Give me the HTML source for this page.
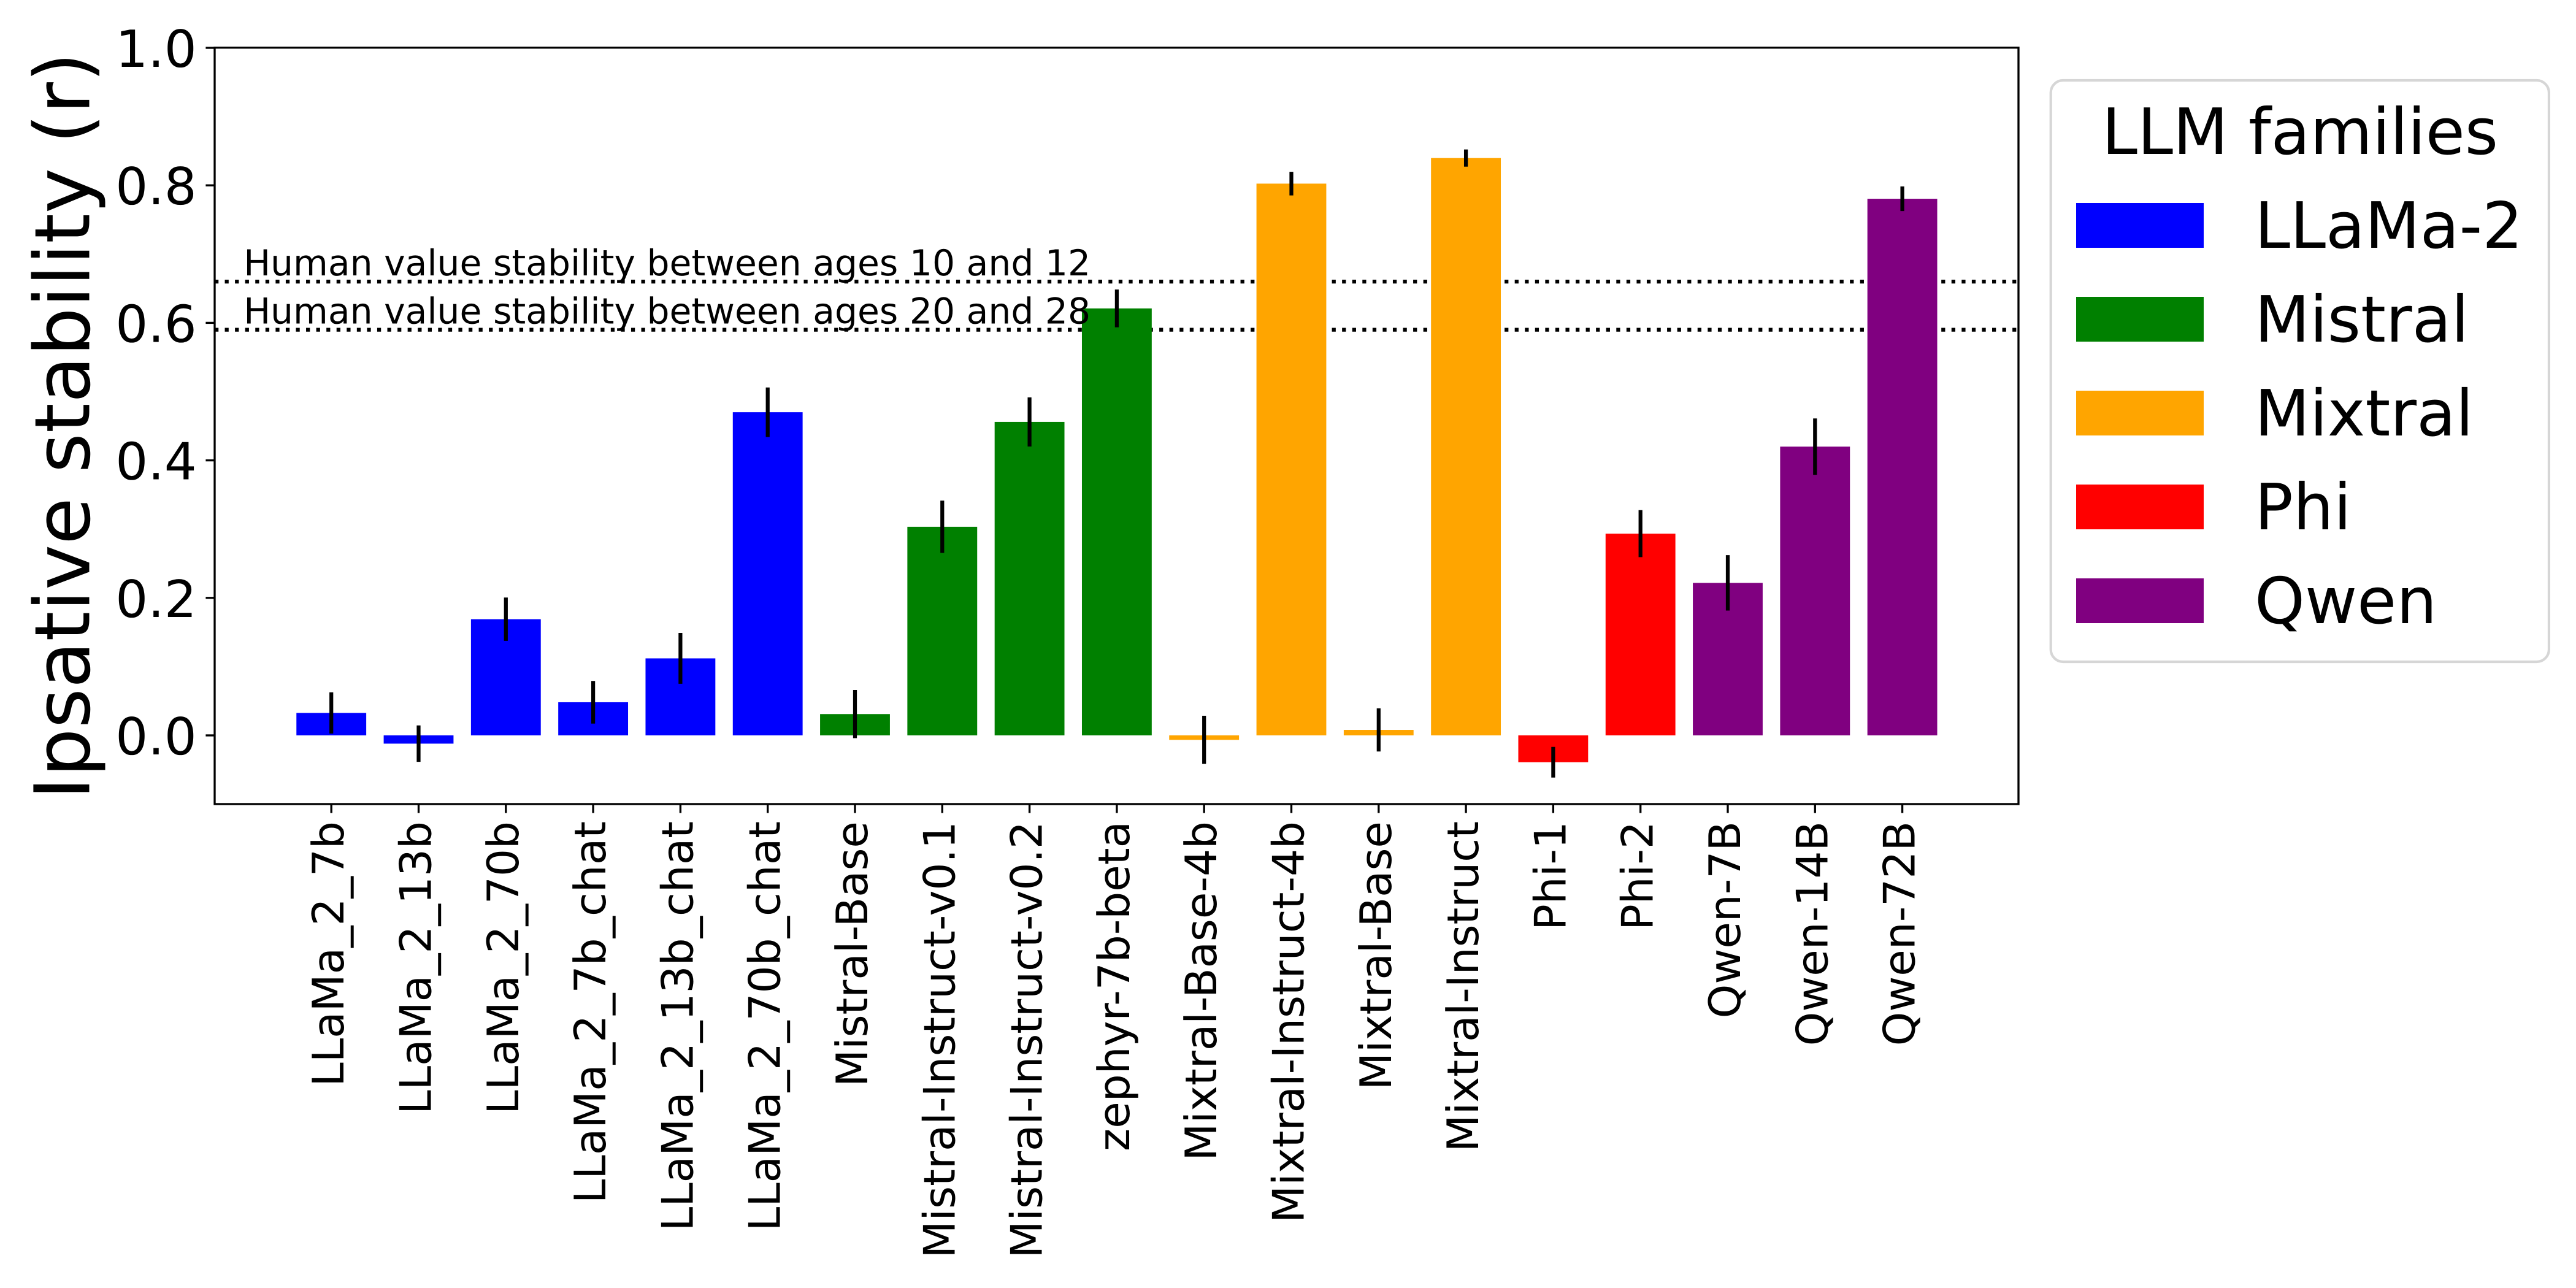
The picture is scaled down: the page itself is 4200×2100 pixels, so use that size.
<!DOCTYPE html>
<html lang="en">
<head>
<meta charset="utf-8">
<title>Ipsative stability by LLM</title>
<style>
html,body{margin:0;padding:0;background:#fff;width:4200px;height:2100px;overflow:hidden}
svg{display:block;text-rendering:geometricPrecision}
text{font-family:"DejaVu Sans","Liberation Sans",sans-serif;fill:#000}
</style>
</head>
<body>
<svg id="chart" xmlns="http://www.w3.org/2000/svg" width="4200" height="2100" viewBox="0 0 4200 2100">
  <rect x="0" y="0" width="4200" height="2100" fill="#fff"/>
  <g id="reference-lines"></g>
  <g id="bars"></g>
  <g id="error-bars"></g>
  <rect x="350" y="77.7" width="2941" height="1233.3" fill="none" stroke="#000" stroke-width="3.33"/>
  <g id="x-axis"></g>
  <g id="y-axis"></g>
  <g id="reference-labels"></g>
  <text transform="translate(145.6,694.5) rotate(-90)" text-anchor="middle" font-size="125">Ipsative stability (r)</text>
  <g>
    <rect x="3343.7" y="131" width="812.2" height="948" rx="20" ry="20" fill="#fff" stroke="#d6d6d6" stroke-width="4.17"/>
    <text x="3750" y="251" text-anchor="middle" font-size="104.17">LLM families</text>
    <g>
      <rect x="3385" y="331" width="208" height="73" fill="#0000ff"/>
      <text x="3676" y="404" font-size="104.17">LLaMa-2</text>
    </g>
    <g>
      <rect x="3385" y="484" width="208" height="73" fill="#008000"/>
      <text x="3676" y="557" font-size="104.17">Mistral</text>
    </g>
    <g>
      <rect x="3385" y="637" width="208" height="73" fill="#ffa500"/>
      <text x="3676" y="710" font-size="104.17">Mixtral</text>
    </g>
    <g>
      <rect x="3385" y="790" width="208" height="73" fill="#ff0000"/>
      <text x="3676" y="863" font-size="104.17">Phi</text>
    </g>
    <g>
      <rect x="3385" y="943" width="208" height="73" fill="#800080"/>
      <text x="3676" y="1016" font-size="104.17">Qwen</text>
    </g>
  </g>
</svg>
<script>
const categories = ["LLaMa_2_7b","LLaMa_2_13b","LLaMa_2_70b","LLaMa_2_7b_chat","LLaMa_2_13b_chat","LLaMa_2_70b_chat","Mistral-Base","Mistral-Instruct-v0.1","Mistral-Instruct-v0.2","zephyr-7b-beta","Mixtral-Base-4b","Mixtral-Instruct-4b","Mixtral-Base","Mixtral-Instruct","Phi-1","Phi-2","Qwen-7B","Qwen-14B","Qwen-72B"];
const values = [0.0327,-0.012,0.169,0.0482,0.112,0.47,0.031,0.3034,0.4559,0.621,-0.0065,0.8025,0.008,0.8397,-0.039,0.2934,0.2218,0.42,0.7805];
const errors = [0.03,0.0265,0.0315,0.031,0.037,0.036,0.035,0.038,0.0357,0.0275,0.035,0.0172,0.0314,0.0125,0.0223,0.0342,0.0403,0.041,0.0179];
const barColors = ["blue","blue","blue","blue","blue","blue","green","green","green","green","orange","orange","orange","orange","red","red","purple","purple","purple"];
const yTicks = [0,0.2,0.4,0.6,0.8,1];
const yTickLabels = ["0.0","0.2","0.4","0.6","0.8","1.0"];
const referenceValues = [0.66,0.59];
const referenceLabels = ["Human value stability between ages 10 and 12","Human value stability between ages 20 and 28"];

const NS = "http://www.w3.org/2000/svg";
const xScale = function (i) { return 540.2 + 142.3 * i; };
const yScale = function (v) { return 1199 - 1121 * v; };
const make = function (tag, parentId) {
  const el = document.createElementNS(NS, tag);
  document.getElementById(parentId).appendChild(el);
  return el;
};
const slug = function (s) { return s.toLowerCase().replace(/[^a-z0-9]+/g, '-'); };
const BAR_WIDTH = 0.8;
const FRAME_LEFT = 350, FRAME_RIGHT = 3291, FRAME_BOTTOM = 1311;

referenceValues.forEach(function (v, i) {
  const line = make('line', 'reference-lines');
  
  
  line.setAttribute('x1', FRAME_LEFT);
  line.setAttribute('x2', FRAME_RIGHT);
  line.setAttribute('y1', yScale(v));
  line.setAttribute('y2', yScale(v));
  line.setAttribute('stroke', '#000');
  line.setAttribute('stroke-width', '6.25');
  line.setAttribute('stroke-dasharray', '6.25 10.31');

  const label = make('text', 'reference-labels');
  
  
  label.setAttribute('x', xScale(-1.005));
  label.setAttribute('y', yScale(v + 0.01) + 1);
  label.setAttribute('font-size', '58.33');
  label.textContent = referenceLabels[i];
});

categories.forEach(function (name, i) {
  const value = values[i];
  const halfWidth = 142.3 * BAR_WIDTH / 2;
  const cx = xScale(i);

  const bar = make('rect', 'bars');
  
  
  bar.setAttribute('x', cx - halfWidth);
  bar.setAttribute('width', halfWidth * 2);
  bar.setAttribute('y', Math.min(yScale(value), yScale(0)));
  bar.setAttribute('height', Math.abs(yScale(value) - yScale(0)));
  bar.setAttribute('fill', barColors[i]);

  const err = make('line', 'error-bars');
  
  
  err.setAttribute('x1', cx);
  err.setAttribute('x2', cx);
  err.setAttribute('y1', yScale(value + errors[i]));
  err.setAttribute('y2', yScale(value - errors[i]));
  err.setAttribute('stroke', '#000');
  err.setAttribute('stroke-width', '6.25');

  const tick = make('line', 'x-axis');
  
  
  tick.setAttribute('x1', cx);
  tick.setAttribute('x2', cx);
  tick.setAttribute('y1', FRAME_BOTTOM);
  tick.setAttribute('y2', FRAME_BOTTOM + 14.6);
  tick.setAttribute('stroke', '#000');
  tick.setAttribute('stroke-width', '3.33');

  const label = make('text', 'x-axis');
  
  
  label.setAttribute('transform', 'translate(' + (cx + 20) + ',1339) rotate(-90)');
  label.setAttribute('text-anchor', 'end');
  label.setAttribute('font-size', '70.83');
  label.textContent = name;
});

yTicks.forEach(function (v, i) {
  const tick = make('line', 'y-axis');
  
  
  tick.setAttribute('x1', FRAME_LEFT - 14.6);
  tick.setAttribute('x2', FRAME_LEFT);
  tick.setAttribute('y1', yScale(v));
  tick.setAttribute('y2', yScale(v));
  tick.setAttribute('stroke', '#000');
  tick.setAttribute('stroke-width', '3.33');

  const label = make('text', 'y-axis');
  
  
  label.setAttribute('x', 320.8);
  label.setAttribute('y', yScale(v) + 31);
  label.setAttribute('text-anchor', 'end');
  label.setAttribute('font-size', '83.33');
  label.textContent = yTickLabels[i];
});
</script>
</body>
</html>
